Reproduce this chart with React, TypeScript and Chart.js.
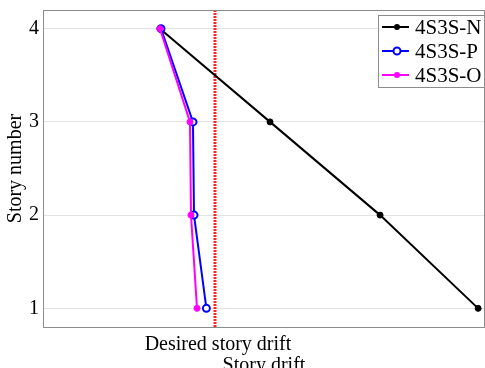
import React, { useEffect, useRef } from "react";
import { Chart, registerables } from "chart.js";

Chart.register(...registerables);

// Story numbers (y) and the drift reached at each story (x) for each model
const storyNumbers = [1, 2, 3, 4];
const driftN = [0.0506, 0.0392, 0.0264, 0.0136];
const driftP = [0.019, 0.01756, 0.01744, 0.01372];
const driftO = [0.01791, 0.01721, 0.01709, 0.0136];
const desiredDrift = 0.02;

const seriesLabels = ["4S3S-N", "4S3S-P", "4S3S-O"];
const seriesColors = ["#000000", "#0000ff", "#ff00ff"];
const desiredLabel = "Desired story drift";
const xTitle = "Story drift";
const yTitle = "Story number";
const xRange = [0, 0.0514];
const yRange = [0.8, 4.2];

const FONT = "'Liberation Serif', 'Times New Roman', serif";

const toPoints = (xs: number[]) => xs.map((x, i) => ({ x, y: storyNumbers[i] }));

// Top and right edges of the axes box
const frame = {
  id: "frame",
  afterDatasetsDraw(chart: any) {
    const { ctx, chartArea } = chart;
    ctx.save();
    ctx.strokeStyle = "#8c8c8c";
    ctx.lineWidth = 1;
    ctx.beginPath();
    ctx.moveTo(chartArea.left, chartArea.top + 0.5);
    ctx.lineTo(chartArea.right, chartArea.top + 0.5);
    ctx.moveTo(chartArea.right - 0.5, chartArea.top);
    ctx.lineTo(chartArea.right - 0.5, chartArea.bottom);
    ctx.stroke();
    ctx.restore();
  },
};

// Boxed legend in the upper right corner of the plot
const boxLegend = {
  id: "boxLegend",
  afterDraw(chart: any) {
    const { ctx, chartArea } = chart;
    const w = 106;
    const h = 72;
    const x0 = chartArea.right - w - 1;
    const y0 = chartArea.top + 5;
    ctx.save();
    ctx.fillStyle = "#ffffff";
    ctx.fillRect(x0, y0, w, h);
    ctx.strokeStyle = "#8c8c8c";
    ctx.lineWidth = 1;
    ctx.strokeRect(x0 + 0.5, y0 + 0.5, w, h);
    const items = chart.data.datasets.filter((d: any) => seriesLabels.includes(d.label));
    items.forEach((ds: any, i: number) => {
      const y = y0 + 12 + i * 24;
      ctx.strokeStyle = ds.borderColor;
      ctx.lineWidth = 2;
      ctx.beginPath();
      ctx.moveTo(x0 + 4, y);
      ctx.lineTo(x0 + 31, y);
      ctx.stroke();
      ctx.beginPath();
      ctx.arc(x0 + 19, y, ds.pointRadius, 0, Math.PI * 2);
      if (ds.pointBackgroundColor === "#ffffff") {
        ctx.fillStyle = "#ffffff";
        ctx.fill();
        ctx.lineWidth = ds.pointBorderWidth;
        ctx.stroke();
      } else {
        ctx.fillStyle = ds.borderColor;
        ctx.fill();
      }
      ctx.fillStyle = "#000000";
      ctx.font = `21px ${FONT}`;
      ctx.textBaseline = "middle";
      ctx.textAlign = "left";
      ctx.fillText(ds.label, x0 + 37, y + 1);
    });
    ctx.restore();
  },
};

export default function App() {
  const canvasRef = useRef<HTMLCanvasElement | null>(null);

  useEffect(() => {
    const canvas = canvasRef.current;
    if (!canvas) return;
    const chart = new Chart(canvas, {
      type: "line",
      data: {
        datasets: [
          {
            label: seriesLabels[0],
            data: toPoints(driftN),
            borderColor: seriesColors[0],
            backgroundColor: seriesColors[0],
            pointBackgroundColor: seriesColors[0],
            pointBorderColor: seriesColors[0],
            borderWidth: 2,
            pointRadius: 3,
            pointBorderWidth: 1,
            order: 2,
          },
          {
            label: seriesLabels[1],
            data: toPoints(driftP),
            borderColor: seriesColors[1],
            backgroundColor: seriesColors[1],
            pointBackgroundColor: "#ffffff",
            pointBorderColor: seriesColors[1],
            borderWidth: 2,
            pointRadius: 3.5,
            pointBorderWidth: 2,
            order: 1,
          },
          {
            label: seriesLabels[2],
            data: toPoints(driftO),
            borderColor: seriesColors[2],
            backgroundColor: seriesColors[2],
            pointBackgroundColor: seriesColors[2],
            pointBorderColor: seriesColors[2],
            borderWidth: 2,
            pointRadius: 3,
            pointBorderWidth: 1,
            order: 0,
          },
          {
            label: desiredLabel,
            data: [
              { x: desiredDrift, y: yRange[0] },
              { x: desiredDrift, y: yRange[1] },
            ],
            borderColor: "#ff2020",
            borderWidth: 3,
            borderDash: [2, 1],
            pointRadius: 0,
            order: 3,
          },
        ],
      },
      options: {
        responsive: false,
        animation: false,
        devicePixelRatio: 1,
        layout: { autoPadding: false, padding: { top: 10, left: 0, right: 0, bottom: 0 } },
        plugins: {
          legend: { display: false },
          tooltip: { enabled: false },
        },
        scales: {
          x: {
            type: "linear",
            min: xRange[0],
            max: xRange[1],
            grid: { display: false, drawTicks: false },
            border: { display: true, color: "#8c8c8c", width: 1 },
            afterBuildTicks: (scale: any) => {
              scale.ticks = [{ value: desiredDrift }];
            },
            afterFit: (scale: any) => {
              scale.height = 41;
              scale.paddingLeft = 0;
              scale.paddingRight = 0;
            },
            ticks: {
              autoSkip: false,
              maxRotation: 0,
              padding: 6,
              labelOffset: 3,
              color: "#000000",
              font: { family: FONT, size: 20 },
              callback: () => desiredLabel,
            },
            title: {
              display: true,
              text: xTitle,
              color: "#000000",
              font: { family: FONT, size: 20 },
              padding: { top: 0, bottom: -10 },
            },
          },
          y: {
            type: "linear",
            min: yRange[0],
            max: yRange[1],
            grid: { color: "#e3e3e3", lineWidth: 1, drawTicks: false },
            border: { display: true, color: "#8c8c8c", width: 1 },
            afterBuildTicks: (scale: any) => {
              scale.ticks = storyNumbers.map((v) => ({ value: v }));
            },
            afterFit: (scale: any) => {
              scale.width = 43;
              scale.paddingTop = 0;
              scale.paddingBottom = 0;
            },
            ticks: {
              padding: 4,
              color: "#000000",
              font: { family: FONT, size: 20 },
              callback: (v: any) => String(v),
            },
            title: {
              display: true,
              text: yTitle,
              color: "#000000",
              font: { family: FONT, size: 20 },
              padding: { top: 4, bottom: 0 },
            },
          },
        },
      },
      plugins: [frame, boxLegend],
    });
    return () => chart.destroy();
  }, []);

  return (
    <div
      style={{
        position: "fixed",
        left: 0,
        top: 0,
        width: 485,
        height: 368,
        overflow: "hidden",
        background: "#ffffff",
      }}
    >
      <canvas ref={canvasRef} width={485} height={368} />
    </div>
  );
}
